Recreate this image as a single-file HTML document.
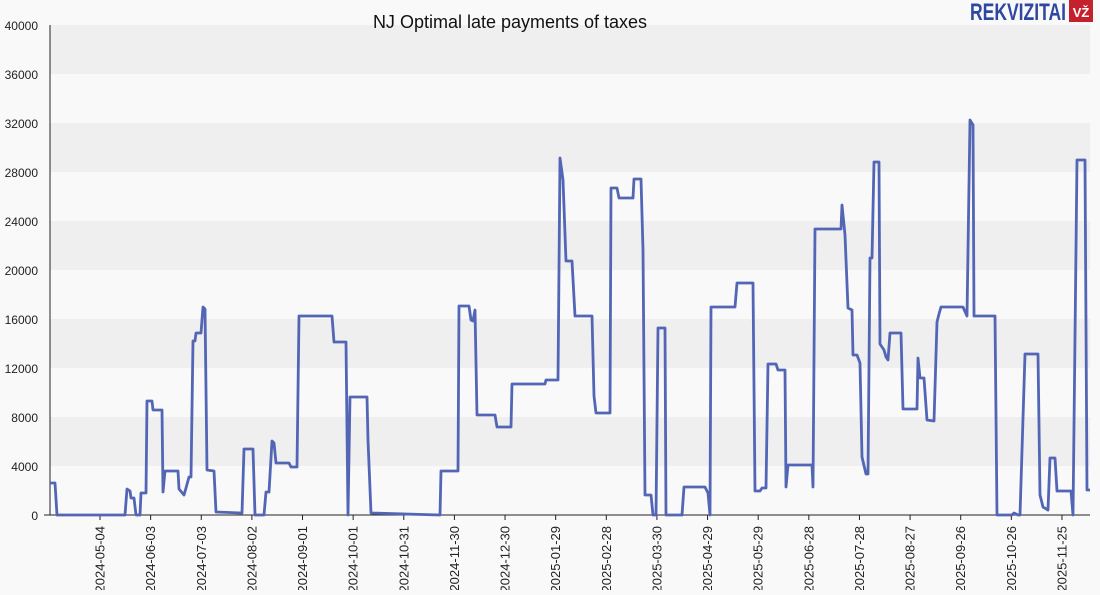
<!DOCTYPE html>
<html><head><meta charset="utf-8"><style>
body{margin:0;background:#f9f9f9;width:1100px;height:590px;overflow:hidden;font-family:"Liberation Sans",sans-serif}
</style></head><body>
<svg width="1100" height="590" xmlns="http://www.w3.org/2000/svg" font-family="Liberation Sans, sans-serif">
<rect width="1100" height="590" fill="#f9f9f9"/>
<g fill="#efefef">
<rect x="50" y="25" width="1040" height="49"/>
<rect x="50" y="123" width="1040" height="49"/>
<rect x="50" y="221" width="1040" height="49"/>
<rect x="50" y="319" width="1040" height="49"/>
<rect x="50" y="417" width="1040" height="49"/>
</g>
<g font-size="12" fill="#222" text-anchor="end">
<text x="38" y="30">40000</text><text x="38" y="79">36000</text><text x="38" y="128">32000</text>
<text x="38" y="177">28000</text><text x="38" y="226">24000</text><text x="38" y="275">20000</text>
<text x="38" y="324">16000</text><text x="38" y="373">12000</text><text x="38" y="422">8000</text>
<text x="38" y="471">4000</text><text x="38" y="520">0</text>
</g>
<line x1="50" y1="25" x2="50" y2="515" stroke="#222"/>
<line x1="44" y1="515" x2="1090" y2="515" stroke="#222"/>
<g id="ticks" stroke="#222"></g>
<g id="labs" font-size="13" fill="#222"></g>
<text x="510" y="28" font-size="18" text-anchor="middle" fill="#111">NJ Optimal late payments of taxes</text>
<text x="1066" y="20" font-size="24" font-weight="bold" fill="#2e47a0" text-anchor="end" textLength="96" lengthAdjust="spacingAndGlyphs">REKVIZITAI</text>
<rect x="1069" y="0" width="24" height="22" fill="#c5202e"/>
<text x="1081" y="17" font-size="13" font-weight="bold" fill="#fff" text-anchor="middle">VŽ</text>
<polyline fill="none" stroke="#5266b5" stroke-width="2.8" stroke-linejoin="round" points="50,483 55,483 57,515 125,515 127,489 130,491 131,498 134,498 136,515 140,515 141,493 146,493 147,401 152,401 153,410 162,410 163,492 165,471 178,471 179,489 184,495 186,488 189,477 191,477 193,341 195,341 196,333 201,333 203,307 205,309 207,470 214,471 216,512 242,513 244,449 253,449 255,515 264,515 266,492 269,492 272,441 274,443 276,463 289,463 291,467 297,467 299,316 332,316 334,342 346,342 348,515 350,397 367,397 368,440 371,513 440,515 441,471 458,471 459,306 469,306 471,320 473,321 475,310 477,415 495,415 497,427 511,427 512,384 545,384 546,380 558,380 560,158 563,180 566,261 572,261 575,316 592,316 594,396 596,413 610,413 611,188 617,188 619,198 633,198 634,179 641,179 643,250 645,495 651,495 653,515 656,515 658,328 665,328 666,515 682,515 684,487 705,487 708,493 710,515 711,307 735,307 737,283 753,283 755,491 760,491 762,488 766,488 768,364 776,364 778,370 785,370 786,487 788,465 812,465 813,487 815,229 841,229 842,205 845,235 848,308 852,310 853,355 857,355 860,363 862,457 866,474 868,474 870,258 872,258 874,162 879,162 880,344 884,350 886,357 888,360 890,333 901,333 903,409 917,409 918,358 920,378 924,378 927,420 934,421 937,322 939,314 941,307 963,307 967,316 970,120 973,125 974,316 995,316 997,515 1012,515 1014,513 1018,515 1020,515 1025,354 1038,354 1040,495 1043,507 1048,510 1050,458 1055,458 1057,491 1071,491 1073,515 1077,160 1085,160 1087,490 1090,490"/>
<script>
var d=["2024-05-04","2024-06-03","2024-07-03","2024-08-02","2024-09-01","2024-10-01","2024-10-31","2024-11-30","2024-12-30","2025-01-29","2025-02-28","2025-03-30","2025-04-29","2025-05-29","2025-06-28","2025-07-28","2025-08-27","2025-09-26","2025-10-26","2025-11-25"];
var t=document.getElementById("ticks"),l=document.getElementById("labs"),ns="http://www.w3.org/2000/svg";
d.forEach(function(s,i){var x=100+i*50.63;
var ln=document.createElementNS(ns,"line");ln.setAttribute("x1",x);ln.setAttribute("x2",x);ln.setAttribute("y1",515);ln.setAttribute("y2",520);t.appendChild(ln);
var tx=document.createElementNS(ns,"text");tx.setAttribute("transform","translate("+(x+4.5)+",526) rotate(-90)");tx.setAttribute("text-anchor","end");tx.textContent=s;l.appendChild(tx);});
</script>
</svg>
</body></html>
